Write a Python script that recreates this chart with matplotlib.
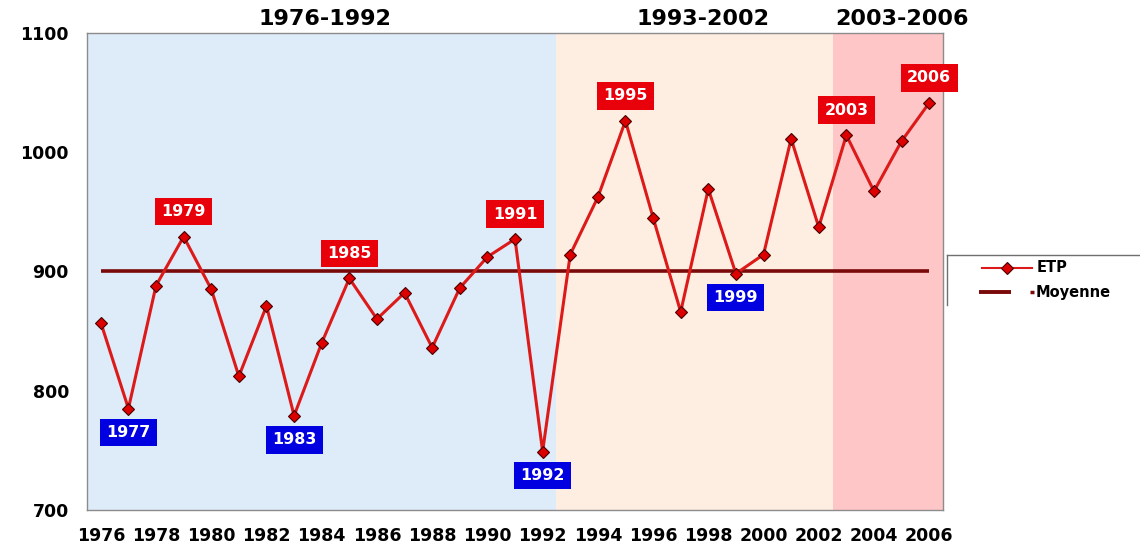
import matplotlib
matplotlib.use('Agg')
import matplotlib.pyplot as plt
from matplotlib.lines import Line2D
from matplotlib.transforms import blended_transform_factory

# ---- data ----
years = list(range(1976, 2007))
etp = [857, 785, 888, 929, 885, 812, 871, 779, 840, 894, 860, 882, 836, 886,
       912, 927, 749, 914, 962, 1026, 945, 866, 969, 898, 914, 1011, 937,
       1014, 967, 1009, 1041]
moyenne = 900
high_years = [1979, 1985, 1991, 1995, 2003, 2006]
low_years = [1977, 1983, 1992, 1999]
period_labels = ['1976-1992', '1993-2002', '2003-2006']
period_bounds = [1975.5, 1992.5, 2002.5, 2006.5]
period_label_x = [1984.1, 1997.8, 2005.0]
period_colors = ['#deebf8', '#fdeee1', '#fec6c7']
ytick_values = [700, 800, 900, 1000, 1100]
xtick_values = list(range(1976, 2007, 2))

W, H = 1140, 546
fig = plt.figure(figsize=(W / 100, H / 100), dpi=100)
ax = fig.add_axes([87 / W, 1 - 510 / H, (943 - 87) / W, (510 - 32.5) / H])

for i, c in enumerate(period_colors):
    ax.axvspan(period_bounds[i], period_bounds[i + 1], color=c, lw=0, zorder=0)

ax.plot([years[0], years[-1]], [moyenne, moyenne], color='#7a0a0a', lw=2.6,
        zorder=2, solid_capstyle='butt')
ax.plot(years, etp, color='#dd1a1a', lw=2.2, marker='D', ms=6.5,
        mfc='#dd0000', mec='#4a0000', mew=0.8, zorder=3)

for y in high_years:
    v = etp[years.index(y)]
    ax.annotate(str(y), (y, v), xytext=(0, 25), textcoords='offset pixels',
                ha='center', va='center', color='white', fontweight='bold',
                fontsize=11.4, zorder=5,
                bbox=dict(boxstyle='square,pad=0.4', fc='#e8000b', ec='none'))
for y in low_years:
    v = etp[years.index(y)]
    ax.annotate(str(y), (y, v), xytext=(0, -24), textcoords='offset pixels',
                ha='center', va='center', color='white', fontweight='bold',
                fontsize=11.4, zorder=5,
                bbox=dict(boxstyle='square,pad=0.4', fc='#0000e0', ec='none'))

trans = blended_transform_factory(ax.transData, ax.transAxes)
for lab, x in zip(period_labels, period_label_x):
    ax.text(x, 1.028, lab, transform=trans, ha='center', va='center',
            fontsize=16, fontweight='bold', color='black')

ax.set_xlim(period_bounds[0], period_bounds[-1])
ax.set_ylim(ytick_values[0], ytick_values[-1])
ax.set_xticks(xtick_values)
ax.set_xticklabels([str(x) for x in xtick_values], fontweight='bold', fontsize=12.5)
ax.set_yticks(ytick_values)
ax.set_yticklabels([str(v) for v in ytick_values], fontweight='bold', fontsize=12.5)
ax.tick_params(axis='both', length=0)
ax.tick_params(axis='y', pad=13)
ax.tick_params(axis='x', pad=12)
for s in ax.spines.values():
    s.set_color('#8c8c8c')
    s.set_linewidth(1)

# ---- legend (partially visible box) ----
ft = fig.transFigure
lx = 947 / W
fig.add_artist(Line2D([lx, 1], [1 - 255 / H] * 2, color='#707070', lw=1, transform=ft))
fig.add_artist(Line2D([lx, lx], [1 - 255 / H, 1 - 305 / H], color='#707070', lw=1, transform=ft))
y1 = 1 - 268 / H
fig.add_artist(Line2D([982 / W, 1032 / W], [y1, y1], color='#dd1a1a', lw=1.5, transform=ft))
fig.add_artist(Line2D([1007 / W], [y1], marker='D', ms=6, mfc='#dd0000', mec='#4a0000',
                      mew=0.8, lw=0, transform=ft))
fig.text(1037 / W, y1, 'ETP', ha='left', va='center', fontsize=10.5, fontweight='bold')
y2 = 1 - 292 / H
fig.add_artist(Line2D([979 / W, 1011 / W], [y2, y2], color='#7a0a0a', lw=2.8,
                      solid_capstyle='butt', transform=ft))
fig.add_artist(Line2D([1030 / W, 1034 / W], [y2, y2], color='#7a0a0a', lw=2.5,
                      solid_capstyle='butt', transform=ft))
fig.text(1036 / W, y2, 'Moyenne', ha='left', va='center', fontsize=10.5, fontweight='bold')

fig.savefig('out.png', dpi=100)
